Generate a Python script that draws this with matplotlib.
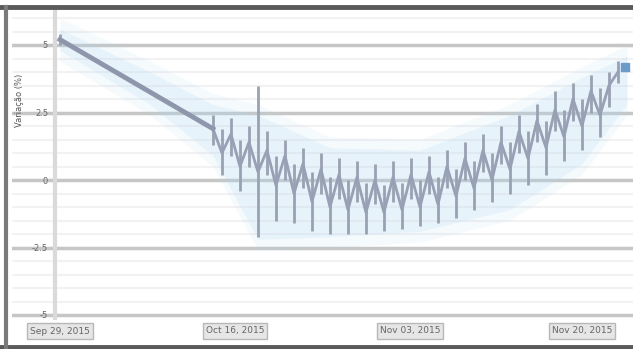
import numpy as np
import matplotlib.pyplot as plt
from matplotlib.lines import Line2D

# dias de pregao e valores (fechamento, maxima, minima)
dias = [0, 17, 18, 19, 20, 21, 22, 23, 24, 25, 26, 27, 28, 29, 30, 31, 32, 33, 34, 35,
        36, 37, 38, 39, 40, 41, 42, 43, 44, 45, 46, 47, 48, 49, 50, 51, 52, 53, 54, 55,
        56, 57, 58, 59, 60, 61, 62]
fech = [5.2, 1.9, 1.0, 1.7, 0.5, 1.4, 0.3, 1.1, -0.2, 0.9, -0.5, 0.6, -0.8, 0.4, -1.0,
        0.2, -1.1, 0.1, -1.2, 0.0, -1.2, 0.1, -1.1, 0.2, -1.0, 0.3, -0.9, 0.5, -0.6, 0.8,
        -0.3, 1.1, 0.0, 1.4, 0.4, 1.8, 0.8, 2.2, 1.2, 2.6, 1.6, 3.0, 2.0, 3.3, 2.4, 3.5, 4.0]
maxi = [5.4, 2.4, 1.9, 2.3, 1.5, 2.0, 3.5, 1.8, 0.9, 1.5, 0.6, 1.2, 0.3, 1.0, 0.1,
        0.8, 0.0, 0.7, -0.1, 0.6, -0.2, 0.7, -0.1, 0.8, 0.0, 0.9, 0.1, 1.1, 0.4, 1.4,
        0.7, 1.7, 1.0, 2.0, 1.4, 2.4, 1.8, 2.8, 2.2, 3.3, 2.6, 3.6, 3.0, 3.9, 3.4, 4.0, 4.4]
mini = [5.0, 1.3, 0.2, 0.9, -0.4, 0.5, -2.1, 0.2, -1.5, 0.0, -1.6, -0.3, -1.9, -0.5, -2.0,
        -0.7, -2.0, -0.8, -2.0, -0.9, -1.9, -0.8, -1.8, -0.7, -1.7, -0.5, -1.6, -0.3, -1.4, 0.0,
        -1.1, 0.3, -0.8, 0.6, -0.5, 1.0, -0.2, 1.4, 0.2, 1.8, 0.7, 2.2, 1.1, 2.5, 1.6, 2.7, 3.6]

# faixa azul (envelope)
faixa_dias = [0, 10, 17, 22, 30, 40, 50, 58, 63]
faixa_sup = [5.6, 4.0, 2.8, 2.4, 1.2, 1.1, 2.4, 3.8, 4.6]
faixa_inf = [4.8, 2.8, 0.9, -2.2, -2.1, -1.9, -1.1, 0.6, 2.8]

yticks = [5, 2.5, 0, -2.5, -5]
ylabels = ['5', '2.5', '0', '-2.5', '-5']
datas = ['Sep 29, 2015', 'Oct 16, 2015', 'Nov 03, 2015', 'Nov 20, 2015']
datas_x = [60, 235, 410, 582]

W, H = 633, 349
fig = plt.figure(figsize=(W / 100, H / 100), dpi=100)
ax = fig.add_axes([12 / W, 1 - 320 / H, 621 / W, 312 / H])

# envelope com efeito de brilho
for a, s in [(0.12, 0.4), (0.2, 0.0)]:
    sup = [v + s for v in faixa_sup]
    inf = [v - s for v in faixa_inf]
    ax.fill_between(faixa_dias, inf, sup, color='#b3d9f3', alpha=a, lw=0, zorder=1)

# grade
for yv in np.arange(-5, 6.5, 0.5):
    ax.axhline(yv, color='#f2f2f2', lw=1.5, zorder=0)
for yv in yticks:
    ax.axhline(yv, color='#c6c6c6', lw=2.5, zorder=0.5)
ax.axvline(-0.6, color='#dadada', lw=3, zorder=0.5)

# maxima/minima
ax.vlines(dias, mini, maxi, color='#9aa1b2', lw=2, zorder=2)
ax.plot(dias, fech, color='#98a0b5', lw=2, zorder=3)
ax.plot(dias[:2], fech[:2], color='#8e96ab', lw=3.5, zorder=3)
ax.plot(dias[-1] + 0.8, fech[-1] + 0.2, 's', color='#6a9cc9', ms=6, zorder=4)

ax.set_xlim(-5.33, 63.67)
ax.set_ylim((180 - 320) / 27, (180 - 8) / 27)
ax.set_yticks(yticks)
ax.set_yticklabels(ylabels, fontsize=6, color='#666666')
ax.tick_params(axis='y', length=0, pad=-26)
ax.set_xticks([])
for s in ax.spines.values():
    s.set_visible(False)

fig.text(20 / W, 1 - 100 / H, 'Variação (%)', rotation=90, fontsize=6,
         color='#555555', ha='center', va='center')

for d, px in zip(datas, datas_x):
    fig.text(px / W, 1 - 331 / H, d, fontsize=6.5, color='#666666', ha='center', va='center',
             bbox=dict(boxstyle='square,pad=0.35', fc='#e6e6e6', ec='#b8b8b8', lw=1))

# moldura escura: topo, esquerda e base
borda = '#5a5a5a'
fig.add_artist(Line2D([0, 1], [1 - 7 / H, 1 - 7 / H], color=borda, lw=3.5, transform=fig.transFigure))
fig.add_artist(Line2D([0, 1], [2 / H, 2 / H], color=borda, lw=3.5, transform=fig.transFigure))
fig.add_artist(Line2D([6 / W, 6 / W], [0, 1 - 7 / H], color='#7a7a7a', lw=3, transform=fig.transFigure))

plt.savefig('out.png', dpi=100)
